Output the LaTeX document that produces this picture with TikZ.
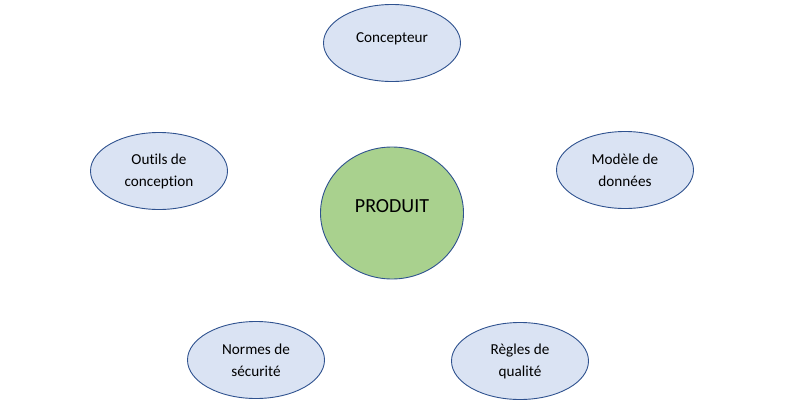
\documentclass[tikz,border=0pt]{standalone}
\usepackage{fontspec}
\setmainfont{Carlito}[Ligatures={NoCommon}]
\usetikzlibrary{shapes.geometric}
\definecolor{ellfill}{HTML}{DAE3F3}
\definecolor{ellline}{HTML}{2F528F}
\definecolor{prodfill}{HTML}{A9D18E}
\begin{document}
\begin{tikzpicture}[x=1pt,y=-1pt,
  item/.style={ellipse,draw=ellline,fill=ellfill,line width=0.9pt,minimum width=137pt,minimum height=77pt,inner sep=0pt,align=center,font=\fontsize{15.2}{22}\selectfont},
  prod/.style={ellipse,draw=ellline,fill=prodfill,line width=0.9pt,minimum width=143pt,minimum height=132pt,inner sep=0pt,font=\fontsize{20}{24}\selectfont}]
\useasboundingbox (0,0) rectangle (788,407);
\node[item,text depth=11pt] (conc) at (392,43) {Concepteur};
\node[prod,text depth=14pt] (prod) at (392,213) {PRODUIT};
\node[item] (outils) at (159,171) {Outils de\\conception};
\node[item] (modele) at (625,170) {Modèle de\\données};
\node[item] (normes) at (256,360) {Normes de\\sécurité};
\node[item] (regles) at (520,361) {Règles de\\qualité};
\end{tikzpicture}
\end{document}
